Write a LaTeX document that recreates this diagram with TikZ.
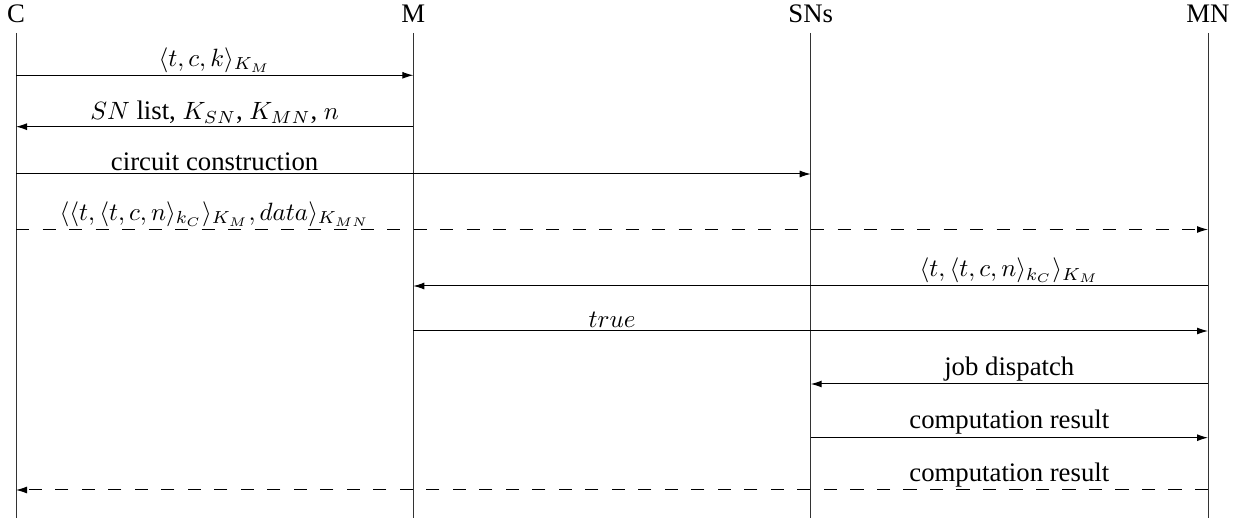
\documentclass[tikz,border=0pt]{standalone}
\usepackage{fontspec}
\setmainfont{Liberation Serif}[Scale=1.07]
\usetikzlibrary{arrows.meta}
\begin{document}
\begin{tikzpicture}[x=0.4pt,y=-0.4pt,
  head/.style={anchor=base, inner sep=0pt},
  life/.style={draw=black!80, line width=0.4pt},
  msg/.style={-{Latex[length=4.4pt,width=2.8pt]}, line width=0.4pt},
  dmsg/.style={msg, dash pattern=on 5.3pt off 5.3pt},
  lbl/.style={anchor=south, inner sep=1pt}]
\useasboundingbox (0,0) rectangle (1242,518);
% headers
\node[head] (C)   at (16,23)     {C};
\node[head] (M)   at (413.3,23)  {M};
\node[head] (SN)  at (810.7,23)  {SNs};
\node[head] (MN)  at (1208,23)   {MN};
% lifelines
\coordinate (Ct) at (16,33);    \coordinate (Cb) at (16,518);
\coordinate (Mt) at (413.3,33); \coordinate (Mb) at (413.3,518);
\coordinate (St) at (810.7,33); \coordinate (Sb) at (810.7,518);
\coordinate (Nt) at (1208,33);  \coordinate (Nb) at (1208,518);
\draw[life] (Ct) -- (Cb);
\draw[life] (Mt) -- (Mb);
\draw[life] (St) -- (Sb);
\draw[life] (Nt) -- (Nb);
% message end points
\coordinate (c1) at (16,75.3);    \coordinate (m1) at (413.3,75.3);
\coordinate (c2) at (16,126.7);   \coordinate (m2) at (413.3,126.7);
\coordinate (c3) at (16,174);     \coordinate (s3) at (810.7,174);
\coordinate (c4) at (16,229.5);   \coordinate (n4) at (1208,229.5);
\coordinate (m5) at (413.3,286);  \coordinate (n5) at (1208,286);
\coordinate (m6) at (413.3,331);  \coordinate (n6) at (1208,331);
\coordinate (s7) at (810.7,384);  \coordinate (n7) at (1208,384);
\coordinate (s8) at (810.7,437.7);\coordinate (n8) at (1208,437.7);
\coordinate (c9) at (16,490);     \coordinate (n9) at (1208,490);
% messages
\draw[msg]  (c1) -- (m1);
\draw[msg]  (m2) -- (c2);
\draw[msg]  (c3) -- (s3);
\draw[dmsg] (c4) -- (n4);
\draw[msg]  (n5) -- (m5);
\draw[msg]  (m6) -- (n6);
\draw[msg]  (n7) -- (s7);
\draw[msg]  (s8) -- (n8);
\draw[dmsg] (n9) -- (c9);
% labels
\node[lbl] (l1) at (214.6,75.3)  {$\langle t,c,k\rangle_{K_M}$};
\node[lbl] (l2) at (214.6,126.7) {$SN$ list, $K_{SN}$, $K_{MN}$, $n$};
\node[lbl] (l3) at (214.6,174)   {circuit construction};
\node[lbl] (l4) at (214.6,229.5) {$\langle\langle t,\langle t,c,n\rangle_{k_C}\rangle_{K_M},data\rangle_{K_{MN}}$};
\node[lbl] (l5) at (1009.3,286)  {$\langle t,\langle t,c,n\rangle_{k_C}\rangle_{K_M}$};
\node[lbl] (l6) at (612,331)     {$true$};
\node[lbl] (l7) at (1009.3,384)  {job dispatch};
\node[lbl] (l8) at (1009.3,437.7){computation result};
\node[lbl] (l9) at (1009.3,490)  {computation result};
\end{tikzpicture}
\end{document}
